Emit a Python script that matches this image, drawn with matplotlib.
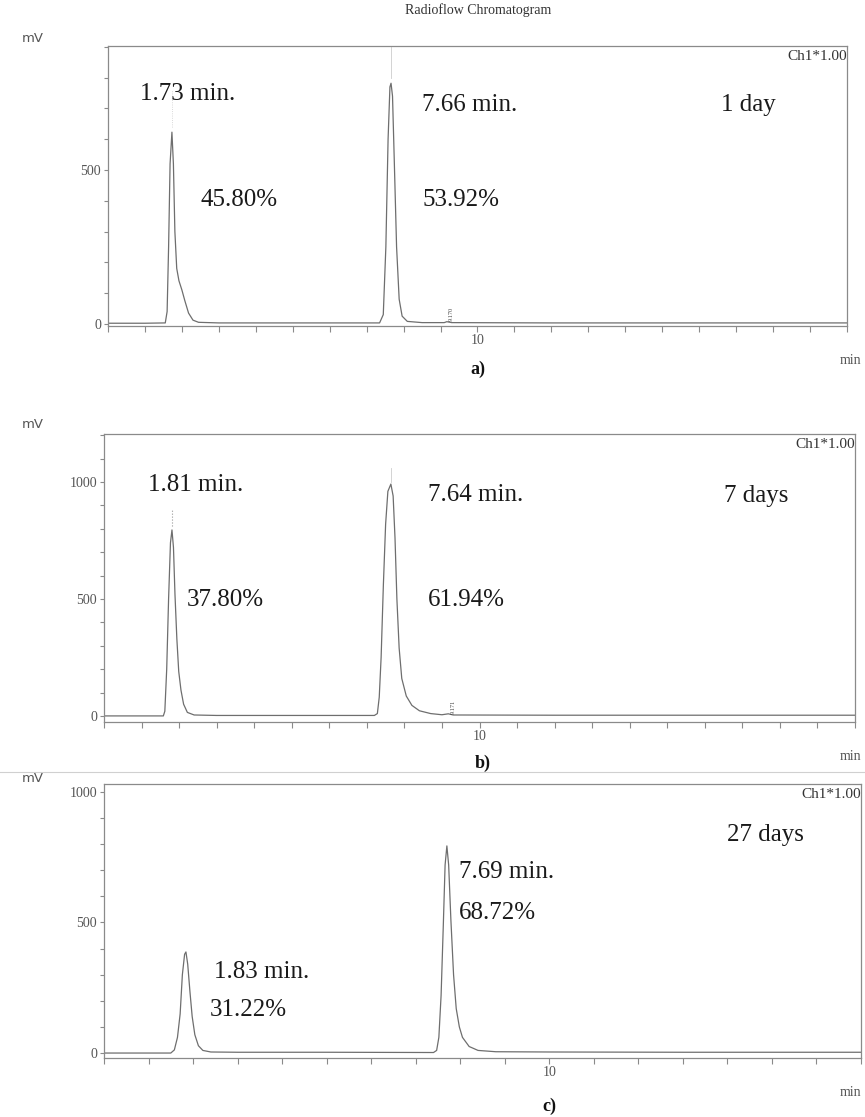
import matplotlib
matplotlib.use("Agg")
import matplotlib.pyplot as plt
from matplotlib.lines import Line2D

plt.rcParams['font.family'] = ['Liberation Serif', 'DejaVu Serif']

# traces (time in min, signal in mV)
t_a = [0, 1.0, 1.55, 1.60, 1.64, 1.68, 1.73, 1.77, 1.81, 1.86, 1.92, 2.00, 2.08, 2.18, 2.30, 2.45, 3.0,
       5.0, 7.35, 7.45, 7.52, 7.58, 7.63, 7.66, 7.70, 7.75, 7.81, 7.88, 7.96, 8.1, 8.5, 9.1, 9.17, 9.3, 12.0, 16.0, 20.0]
mv_a = [2, 2, 3, 40, 250, 520, 623, 520, 300, 180, 140, 110, 75, 35, 12, 5, 3,
        3, 3, 30, 250, 600, 770, 782, 740, 520, 250, 80, 25, 8, 4, 4, 7, 4, 3, 3, 3]

t_b = [0, 1.0, 1.58, 1.62, 1.67, 1.72, 1.77, 1.81, 1.85, 1.89, 1.94, 1.99, 2.05, 2.12, 2.22, 2.40, 3.0,
       5.0, 7.20, 7.28, 7.33, 7.38, 7.44, 7.50, 7.56, 7.64, 7.70, 7.75, 7.80, 7.86, 7.93, 8.05, 8.2, 8.4,
       8.7, 9.0, 9.17, 9.3, 12.0, 16.0, 20.0]
mv_b = [0, 0, 0, 20, 200, 500, 740, 795, 720, 520, 330, 190, 110, 50, 15, 4, 2,
        2, 2, 10, 80, 250, 560, 820, 960, 991, 940, 760, 500, 290, 160, 85, 45, 22,
        10, 5, 9, 4, 3, 3, 3]

t_c = [0, 1.0, 1.50, 1.58, 1.65, 1.71, 1.76, 1.81, 1.84, 1.88, 1.93, 1.98, 2.04, 2.12, 2.22, 2.40, 3.0,
       5.0, 7.40, 7.47, 7.52, 7.57, 7.62, 7.66, 7.70, 7.74, 7.79, 7.85, 7.91, 7.98, 8.05, 8.2, 8.4,
       8.8, 10.0, 13.0, 17.0]
mv_c = [0, 0, 0, 12, 60, 150, 300, 378, 387, 340, 235, 140, 70, 28, 10, 4, 3,
        3, 2, 10, 60, 220, 490, 720, 793, 720, 510, 300, 170, 100, 60, 25, 10,
        5, 4, 3, 3]

# peak labels: (x, y, text)
labels_a = [(0.86, 747, "1.73 min."), (2.49, 403, "45.80%"), (8.49, 711, "7.66 min."),
            (8.51, 403, "53.92%"), (16.6, 711, "1 day")]
labels_b = [(1.17, 987, "1.81 min."), (2.20, 496, "37.80%"), (8.62, 944, "7.64 min."),
            (8.62, 496, "61.94%"), (16.5, 940, "7 days")]
labels_c = [(2.46, 310, "1.83 min."), (2.37, 165, "31.22%"), (7.97, 693, "7.69 min."),
            (7.97, 536, "68.72%"), (14.0, 835, "27 days")]

small_a = (9.17, "9.170")
small_b = (9.17, "9.171")

W, H = 865, 1117
fig = plt.figure(figsize=(W / 100, H / 100), dpi=100)

grey = "#8a8a8a"
txt_grey = "#555555"


def make_axes(left, right, top, bottom):
    return fig.add_axes([left / W, 1 - bottom / H, (right - left) / W, (bottom - top) / H])


def style(ax, xmax, ylim, ymax_tick, ylabels):
    ax.set_xlim(0, xmax)
    ax.set_ylim(*ylim)
    for s in ax.spines.values():
        s.set_color(grey)
        s.set_linewidth(0.9)
    ax.set_xticks(range(0, xmax + 1))
    ax.set_xticklabels(["10" if v == 10 else "" for v in range(0, xmax + 1)])
    yt = list(range(0, ymax_tick + 1, 100))
    ax.set_yticks(yt)
    ax.set_yticklabels([str(v) if v in ylabels else "" for v in yt])
    ax.tick_params(colors=grey, labelcolor=txt_grey, labelsize=10, length=3, width=0.8, pad=2)
    ax.tick_params(axis='x', length=4)


def draw(ax, t, mv, labels, small=None):
    ax.plot(t, mv, color="#6e6e6e", lw=0.9)
    for x, y, s in labels:
        ax.text(x, y, s, fontsize=18, color="#1a1a1a", va="center", ha="left")
    if small is not None:
        ax.text(small[0] + 0.12, 8, small[1], fontsize=4.5, rotation=90, color="#444444",
                ha="center", va="bottom")
    ax.text(1.0, 0.985, "Ch1*1.00", transform=ax.transAxes, fontsize=11, color="#333333",
            ha="right", va="top")


# panel a
ax1 = make_axes(108, 847, 46, 326)
style(ax1, 20, (-7, 903), 900, [0, 500])
draw(ax1, t_a, mv_a, labels_a, small_a)

# panel b
ax2 = make_axes(104, 855, 434, 722)
style(ax2, 20, (-26, 1205), 1200, [0, 500, 1000])
draw(ax2, t_b, mv_b, labels_b, small_b)

# panel c
ax3 = make_axes(104, 861, 784, 1058)
style(ax3, 17, (-19, 1030), 1000, [0, 500, 1000])
draw(ax3, t_c, mv_c, labels_c)

# faint apex markers
ax1.plot([1.73, 1.73], [640, 760], color="#cccccc", lw=0.6, ls=":")
ax1.plot([7.66, 7.66], [800, 900], color="#cccccc", lw=0.6)
ax2.plot([1.81, 1.81], [810, 880], color="#999999", lw=0.8, ls=":")
ax2.plot([7.64, 7.64], [1000, 1060], color="#cccccc", lw=0.6)

# figure texts
fig.text(478 / W, 1 - 10 / H, "Radioflow Chromatogram", fontsize=10, color="#333333",
         ha="center", va="center")
for y in (38, 424, 778):
    fig.text(22 / W, 1 - y / H, "mV", fontsize=9.5, color=txt_grey, ha="left", va="center",
             family="DejaVu Sans")
for y in (361, 757, 1092):
    fig.text(850 / W, 1 - y / H, "min", fontsize=10, color=txt_grey, ha="center", va="center")
for x, y, s in ((478, 369, "a)"), (483, 763, "b)"), (549, 1106, "c)")):
    fig.text(x / W, 1 - y / H, s, fontsize=13, fontweight="bold", color="#111111",
             ha="center", va="center")

# scan border line above panel c
fig.add_artist(Line2D([0, 1], [1 - 772 / H, 1 - 772 / H], color="#d0d0d0", lw=0.8))

fig.savefig("out.png", dpi=100)
